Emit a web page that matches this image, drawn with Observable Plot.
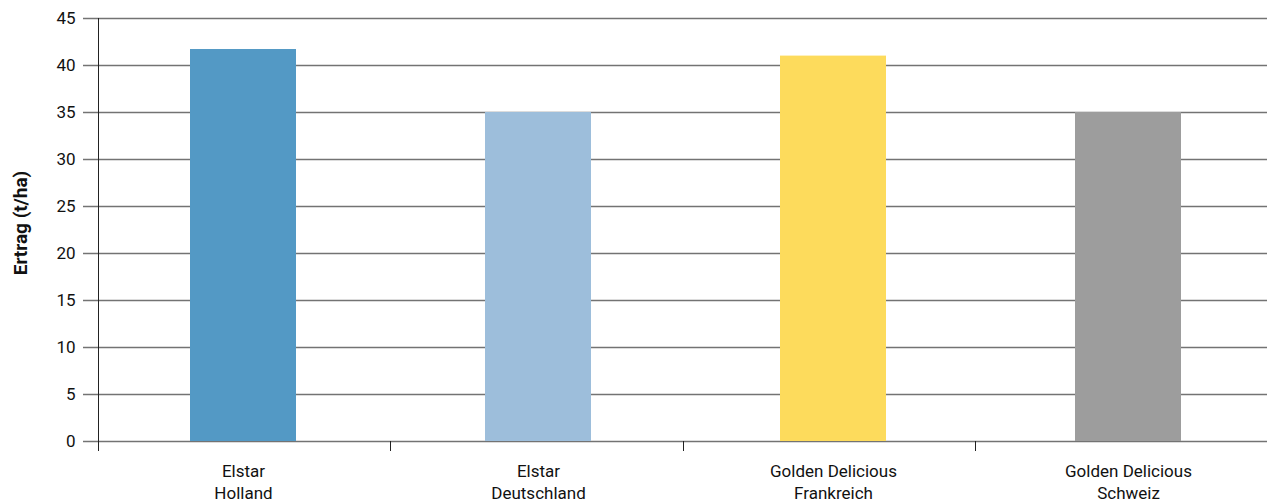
<!DOCTYPE html>
<html>
<head>
<meta charset="utf-8">
<script src="https://cdn.jsdelivr.net/npm/d3@7"></script>
<script src="https://cdn.jsdelivr.net/npm/@observablehq/plot@0.6"></script>
<style>
  html, body { margin: 0; padding: 0; background: #fff; }
  #chart svg { display: block; }
</style>
</head>
<body>
<div id="chart"></div>
<script>
// ---- data ----
const varieties = ["Elstar", "Elstar", "Golden Delicious", "Golden Delicious"];
const origins = ["Holland", "Deutschland", "Frankreich", "Schweiz"];
const yields = [41.7, 35, 41, 35];
const barColors = ["#5399c5", "#9dbedb", "#fddb5c", "#9d9d9d"];
const yTicks = [0, 5, 10, 15, 20, 25, 30, 35, 40, 45];
const yLabel = "Ertrag (t/ha)";

const categories = origins.map((o, i) => varieties[i] + "\n" + o);
const data = categories.map((c, i) => ({category: c, value: yields[i], color: barColors[i]}));

const FONT = "Roboto, 'Liberation Sans', Arial, sans-serif";

// category separator ticks + y axis line: the x range divided evenly among the categories
function separators(index, scales, values, dims) {
  const x = scales.x;
  const [x0, x1] = x.range();
  const step = (x1 - x0) / categories.length;
  const yBottom = dims.height - dims.marginBottom;
  const g = d3.create("svg:g").attr("stroke", "#222").attr("stroke-width", 1);
  for (let i = 0; i <= categories.length; i++) {
    const px = Math.round(x0 + i * step) + 0.5;
    g.append("line")
      .attr("x1", px).attr("x2", px)
      .attr("y1", i === 0 ? dims.marginTop : yBottom)
      .attr("y2", yBottom + 10);
  }
  return g.node();
}

const chart = Plot.plot({
  width: 1267,
  height: 503,
  marginLeft: 98,
  marginRight: 0,
  marginTop: 18,
  marginBottom: 62,
  style: {fontFamily: FONT, color: "#111", background: "#fff"},
  x: {domain: categories, paddingInner: 0.6417, paddingOuter: 0.3022, align: 0.516, axis: null},
  y: {domain: [0, 45], axis: null},
  marks: [
    Plot.gridY(yTicks, {stroke: "#737373", strokeOpacity: 1, strokeWidth: 1.5}),
    Plot.barY(data, {x: "category", y: "value", fill: "color"}),
    separators,
    Plot.axisY({ticks: yTicks, tickSize: 15, tickPadding: 8, fontSize: 17, label: null,
      stroke: "#737373", strokeWidth: 1.5, fill: "#111"}),
    Plot.axisX({tickSize: 0, tickPadding: 19, fontSize: 17, lineHeight: 1.33, label: null,
      fill: "#111", tickFormat: d => d}),
    Plot.text([yLabel], {frameAnchor: "left", dx: -78, dy: -7, rotate: -90, textAnchor: "middle",
      fontWeight: "bold", fontSize: 19, fill: "#111"})
  ]
});
document.getElementById("chart").appendChild(chart);
</script>
</body>
</html>
